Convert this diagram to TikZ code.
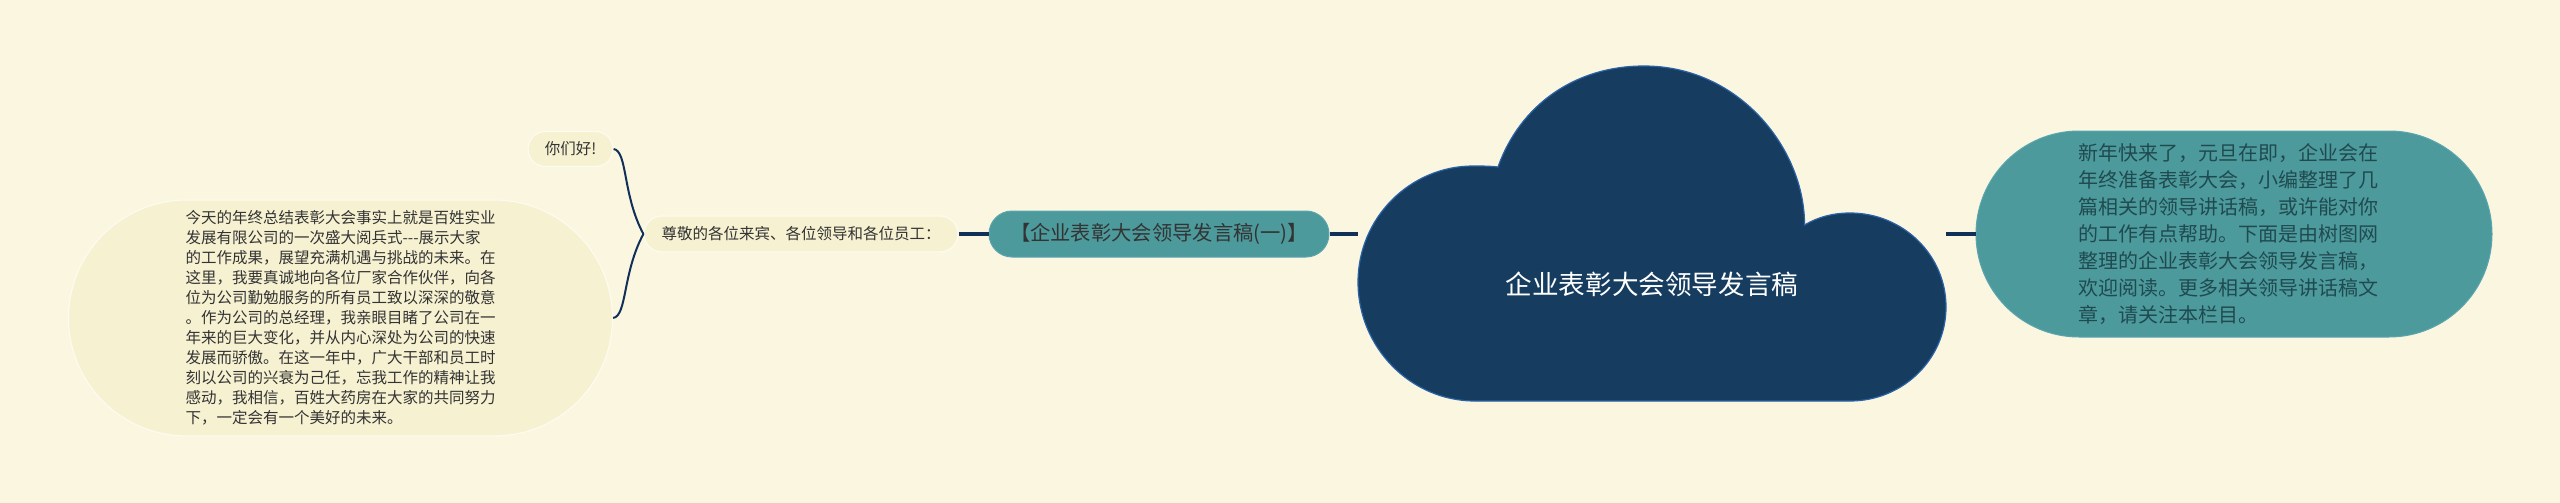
\documentclass[tikz,border=0pt]{standalone}
\usepackage{fontspec}
\usepackage{tikz,pgfmath}
\usetikzlibrary{shapes.misc}
\setmainfont{Noto Sans CJK SC}
\definecolor{paper}{HTML}{FBF6E0}
\definecolor{cream}{HTML}{F6F1D1}
\definecolor{creamedge}{HTML}{FDFBF0}
\definecolor{teal}{HTML}{4D9A9C}
\definecolor{tealedge}{HTML}{5AA5B0}
\definecolor{navy}{HTML}{163D5F}
\definecolor{navyedge}{HTML}{2A62A8}
\definecolor{wire}{HTML}{10305A}
\definecolor{ink}{HTML}{333333}
\definecolor{tealink}{HTML}{1F4A50}
\begin{document}
\begin{tikzpicture}[x=1pt,y=-1pt,
    pill/.style={rounded rectangle,inner sep=0pt,align=left},
    creampill/.style={pill,fill=cream,draw=creamedge,line width=1.2pt,text=ink},
    tealpill/.style={pill,fill=teal,draw=tealedge,line width=1pt},
    wirelink/.style={draw=wire,line width=3.5pt},
    bracelink/.style={draw=wire,line width=2pt}]
  \useasboundingbox[fill=paper] (0,0) rectangle (2560,503);
  % cloud
  \node[inner sep=0pt,minimum width=588pt,minimum height=336pt] (root) at (1652,234) {};
  \draw[fill=navy,draw=navyedge,line width=1.2pt] (1498,167)
    .. controls (1520,105) and (1575,66) .. (1644,66)
    .. controls (1740,66) and (1805,150) .. (1804.5,225)
    .. controls (1818,217) and (1833,213) .. (1850,213)
    .. controls (1903,213) and (1946,255) .. (1946,307)
    .. controls (1946,359) and (1903,401) .. (1850,401)
    -- (1475,401)
    .. controls (1410,401) and (1358,347) .. (1358,282)
    .. controls (1358,218) and (1410,166) .. (1473,166)
    .. controls (1481,166) and (1490,166) .. (1498,167) -- cycle;
  \node[text=white,font=\fontsize{26.6}{32}\selectfont] (rootlabel) at (1652,284) {企业表彰大会领导发言稿};
  % right
  \node[tealpill,minimum width=516pt,minimum height=206pt,text=tealink,text width=312pt,
    font=\fontsize{20}{27}\selectfont] (intro) at (2234,234) {新年快来了，元旦在即，企业会在\\年终准备表彰大会，小编整理了几\\篇相关的领导讲话稿，或许能对你\\的工作有点帮助。下面是由树图网\\整理的企业表彰大会领导发言稿，\\欢迎阅读。更多相关领导讲话稿文\\章，请关注本栏目。};
  % left
  \node[tealpill,minimum width=340pt,minimum height=46pt,text=ink,
    font=\fontsize{20.3}{24}\selectfont] (title) at (1159,234) {【企业表彰大会领导发言稿(一)】};
  \node[creampill,minimum width=314pt,minimum height=36pt,
    font=\fontsize{15.5}{20}\selectfont] (speech) at (801,234) {尊敬的各位来宾、各位领导和各位员工：};
  \node[creampill,minimum width=85pt,minimum height=35pt,
    font=\fontsize{15.5}{20}\selectfont] (hello) at (570.5,149) {你们好!};
  \node[creampill,minimum width=544pt,minimum height=236pt,
    font=\fontsize{15.5}{20}\selectfont] (speechbody) at (340.5,318) {今天的年终总结表彰大会事实上就是百姓实业\\发展有限公司的一次盛大阅兵式-{}-{}-展示大家\\的工作成果，展望充满机遇与挑战的未来。在\\这里，我要真诚地向各位厂家合作伙伴，向各\\位为公司勤勉服务的所有员工致以深深的敬意\\。作为公司的总经理，我亲眼目睹了公司在一\\年来的巨大变化，并从内心深处为公司的快速\\发展而骄傲。在这一年中，广大干部和员工时\\刻以公司的兴衰为己任，忘我工作的精神让我\\感动，我相信，百姓大药房在大家的共同努力\\下，一定会有一个美好的未来。};
  % links
  \draw[wirelink] (root.east) -- (intro.west);
  \draw[wirelink] (title.east) -- (root.west);
  \draw[wirelink] (speech.east) -- (title.west);
  \draw[bracelink] (hello.east) .. controls +(14,2) and +(-21,-39) .. (speech.west);
  \draw[bracelink] (speechbody.east) .. controls +(14,-2) and +(-21,39) .. (speech.west);
\end{tikzpicture}
\end{document}
